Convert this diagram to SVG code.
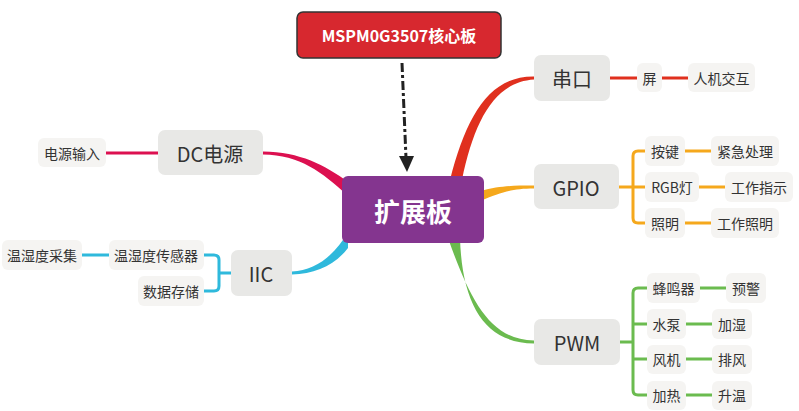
<svg xmlns="http://www.w3.org/2000/svg" width="799" height="411" viewBox="0 0 799 411">
<style>
text{font-family:"Noto Sans CJK SC","Noto Sans",sans-serif;text-anchor:middle;dominant-baseline:central;fill:#333}
.l1 rect{fill:#e8e8e6}
.l1 text{font-size:20px}
.lf rect{fill:#f5f4f2}
.lf text{font-size:14px}
.ln{fill:none;stroke-width:3;stroke-linecap:butt}
</style>
<defs>
<marker id="ah" viewBox="0 0 10 10" refX="9" refY="5" markerWidth="5" markerHeight="5" orient="auto" markerUnits="strokeWidth">
<path d="M0,0 L10,5 L0,10 Z" fill="#222"/>
</marker>
</defs>
<g id="connectors">
<path d="M450,180 C466,118 488,76 534,76.5 L534,79.5 C494,82 474,122 462,180 Z" fill="#e0301e"/>
<path d="M480,191 C500,186 510,185.5 534,185.5 L534,188.5 C512,188.5 502,192 480,201 Z" fill="#f5a81c"/>
<path d="M448,238 C470,300 490,340 534,340.5 L534,343.5 C485,343 462,305 460,238 Z" fill="#6bbb4f"/>
<path d="M263,151.5 C300,152 325,165 348,182 L348,196 C322,172 300,155 263,154.5 Z" fill="#dc1050"/>
<path d="M292,271.5 C315,271 335,255 348,232 L348,248 C335,265 315,274 292,274.5 Z" fill="#2fb9dc"/>
<g stroke="#e0301e" class="ln"><path d="M610,78 H637 M662,78 H688" fill="none" stroke="#e0301e" stroke-width="3"/></g>
<path d="M106,153 H158" fill="none" stroke="#dc1050" stroke-width="3"/>
<path d="M619,187 H645 M645,151 H638 Q633,151 633,156 V218 Q633,223 638,223 H645 M685,151 H711 M699,187 H725 M685,223 H711" fill="none" stroke="#f5a81c" stroke-width="3"/>
<path d="M620,342 H633 M647,288 H638 Q633,288 633,293 V390 Q633,395 638,395 H647 M633,324 H647 M633,359 H647 M700,288 H726 M686,324 H712 M686,359 H712 M686,395 H712" fill="none" stroke="#6bbb4f" stroke-width="3"/>
<path d="M231,273 H219 M204,255 H214 Q219,255 219,260 V286 Q219,291 214,291 H204 M82,255 H109" fill="none" stroke="#2fb9dc" stroke-width="3"/>
<path d="M402,63 L406,158" fill="none" stroke="#222" stroke-width="3" stroke-dasharray="9 3 3 3"/>
<path d="M399,156 L414,156 L407,172 Z" fill="#222"/>
</g>
<g id="core">
<rect x="297" y="12" width="204" height="46" rx="6" fill="#d7282f" stroke="#333" stroke-width="1.5"/>
<text x="399" y="35" style="font-size:16px;font-weight:bold;fill:#fff">MSPM0G3507核心板</text>
</g>
<g id="center">
<rect x="342" y="176" width="142" height="67" rx="6" fill="#84358f"/>
<text x="413" y="210" style="font-size:26px;font-weight:bold;fill:#fff">扩展板</text>
</g>
<g id="dc" class="l1"><rect x="158" y="130" width="105" height="45" rx="7"/><text x="210" y="153">DC电源</text></g>
<g id="iic" class="l1"><rect x="231" y="250" width="61" height="46" rx="7"/><text x="261" y="273">IIC</text></g>
<g id="uart" class="l1"><rect x="534" y="55" width="76" height="46" rx="7"/><text x="572" y="78">串口</text></g>
<g id="gpio" class="l1"><rect x="534" y="164" width="85" height="45" rx="7"/><text x="576" y="187">GPIO</text></g>
<g id="pwm" class="l1"><rect x="534" y="319" width="86" height="46" rx="7"/><text x="577" y="342">PWM</text></g>
<g id="dcin" class="lf"><rect x="38" y="138" width="68" height="29" rx="6"/><text x="72" y="153">电源输入</text></g>
<g id="sensor" class="lf"><rect x="109" y="240" width="95" height="30" rx="6"/><text x="156" y="255">温湿度传感器</text></g>
<g id="collect" class="lf"><rect x="2" y="240" width="80" height="30" rx="6"/><text x="42" y="255">温湿度采集</text></g>
<g id="storage" class="lf"><rect x="138" y="276" width="66" height="30" rx="6"/><text x="171" y="291">数据存储</text></g>
<g id="screen" class="lf"><rect x="637" y="63" width="25" height="29" rx="6"/><text x="649.5" y="78">屏</text></g>
<g id="hmi" class="lf"><rect x="688" y="63" width="67" height="29" rx="6"/><text x="721.5" y="78">人机交互</text></g>
<g id="key" class="lf"><rect x="645" y="136" width="40" height="30" rx="6"/><text x="665" y="151">按键</text></g>
<g id="emerg" class="lf"><rect x="711" y="136" width="68" height="30" rx="6"/><text x="745" y="151">紧急处理</text></g>
<g id="rgb" class="lf"><rect x="645" y="172" width="54" height="30" rx="6"/><text x="672" y="187">RGB灯</text></g>
<g id="ind" class="lf"><rect x="725" y="172" width="68" height="30" rx="6"/><text x="759" y="187">工作指示</text></g>
<g id="light" class="lf"><rect x="645" y="208" width="40" height="30" rx="6"/><text x="665" y="223">照明</text></g>
<g id="worklight" class="lf"><rect x="711" y="208" width="68" height="30" rx="6"/><text x="745" y="223">工作照明</text></g>
<g id="buzzer" class="lf"><rect x="647" y="273" width="53" height="30" rx="6"/><text x="673.5" y="288">蜂鸣器</text></g>
<g id="warn" class="lf"><rect x="726" y="273" width="40" height="30" rx="6"/><text x="746" y="288">预警</text></g>
<g id="pump" class="lf"><rect x="647" y="309" width="39" height="30" rx="6"/><text x="666.5" y="324">水泵</text></g>
<g id="humid" class="lf"><rect x="712" y="309" width="40" height="30" rx="6"/><text x="732" y="324">加湿</text></g>
<g id="fan" class="lf"><rect x="647" y="345" width="39" height="29" rx="6"/><text x="666.5" y="359">风机</text></g>
<g id="exhaust" class="lf"><rect x="712" y="345" width="40" height="29" rx="6"/><text x="732" y="359">排风</text></g>
<g id="heat" class="lf"><rect x="647" y="381" width="39" height="29" rx="6"/><text x="666.5" y="395">加热</text></g>
<g id="warm" class="lf"><rect x="712" y="381" width="40" height="29" rx="6"/><text x="732" y="395">升温</text></g>
</svg>
